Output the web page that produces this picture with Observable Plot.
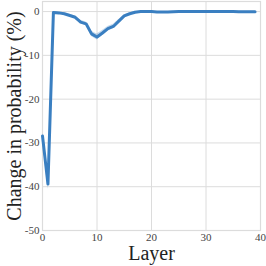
<!DOCTYPE html>
<html><head><meta charset="utf-8">
<script src="https://cdn.jsdelivr.net/npm/d3@7"></script>
<script src="https://cdn.jsdelivr.net/npm/@observablehq/plot@0.6"></script>
<style>body{margin:0;background:#fff}</style>
</head><body><div id="chart"></div>
<script>
const layers = Array.from({length: 40}, (_, i) => i);
const change = [-28.4, -39.4, -0.2, -0.3, -0.5, -0.9, -1.3, -2.4, -2.8, -5.1,
  -5.8, -4.9, -3.9, -3.4, -2.2, -1.0, -0.5, -0.15, 0.0, 0.0,
  0.0, -0.1, -0.1, -0.1, -0.05, 0.0, 0.0, 0.0, 0.0, 0.0,
  0.0, 0.0, 0.0, 0.0, 0.0, 0.0, -0.05, -0.05, -0.05, -0.05];
const err = [0.6, 1.3, 0.2, 0.2, 0.2, 0.3, 0.3, 0.4, 0.4, 0.6,
  0.7, 0.6, 0.5, 0.5, 0.4, 0.3, 0.2, 0.2, 0.1, 0.1,
  0.1, 0.1, 0.1, 0.1, 0.1, 0.1, 0.1, 0.1, 0.1, 0.1,
  0.1, 0.1, 0.1, 0.1, 0.1, 0.1, 0.1, 0.1, 0.1, 0.1];
const xTicks = [0, 10, 20, 30, 40];
const yTicks = [0, -10, -20, -30, -40, -50];
const xLabel = "Layer";
const yLabel = "Change in probability (%)";

const data = layers.map((l, i) => ({layer: l, v: change[i], lo: change[i] - err[i], hi: change[i] + err[i]}));

const chart = Plot.plot({
  width: 266, height: 266,
  marginLeft: 42, marginRight: 6, marginTop: 1, marginBottom: 36,
  style: {fontFamily: "'Liberation Serif', 'Times New Roman', serif", fontSize: "11px", color: "#333"},
  x: {domain: [0, 40]},
  y: {domain: [-50, 2.3]},
  marks: [
    Plot.gridX(xTicks, {stroke: "#dcdcdc", strokeOpacity: 1, strokeWidth: 1}),
    Plot.gridY(yTicks, {stroke: "#dcdcdc", strokeOpacity: 1, strokeWidth: 1}),
    Plot.frame({stroke: "#dcdcdc", strokeWidth: 1.2}),
    Plot.axisX(xTicks, {tickSize: 0, tickPadding: 3, tickFormat: d => String(d), label: null, fill: "#444"}),
    Plot.axisY(yTicks, {tickSize: 0, tickPadding: 3, tickFormat: d => String(d), label: null, fill: "#444"}),
    Plot.areaY(data, {x: "layer", y1: "lo", y2: "hi", fill: "#3a7fc1", fillOpacity: 0.3}),
    Plot.lineY(data, {x: "layer", y: "v", stroke: "#3a7fc1", strokeWidth: 3, strokeLinejoin: "round"}),
    Plot.text([xLabel], {frameAnchor: "bottom", dy: 23, lineAnchor: "middle", textAnchor: "middle", fontSize: 20, fill: "#222"}),
    Plot.text([yLabel], {frameAnchor: "left", dx: -28, rotate: -90, textAnchor: "middle", lineAnchor: "middle", fontSize: 20, fill: "#222"})
  ]
});
document.getElementById("chart").append(chart);
</script>
</body></html>
